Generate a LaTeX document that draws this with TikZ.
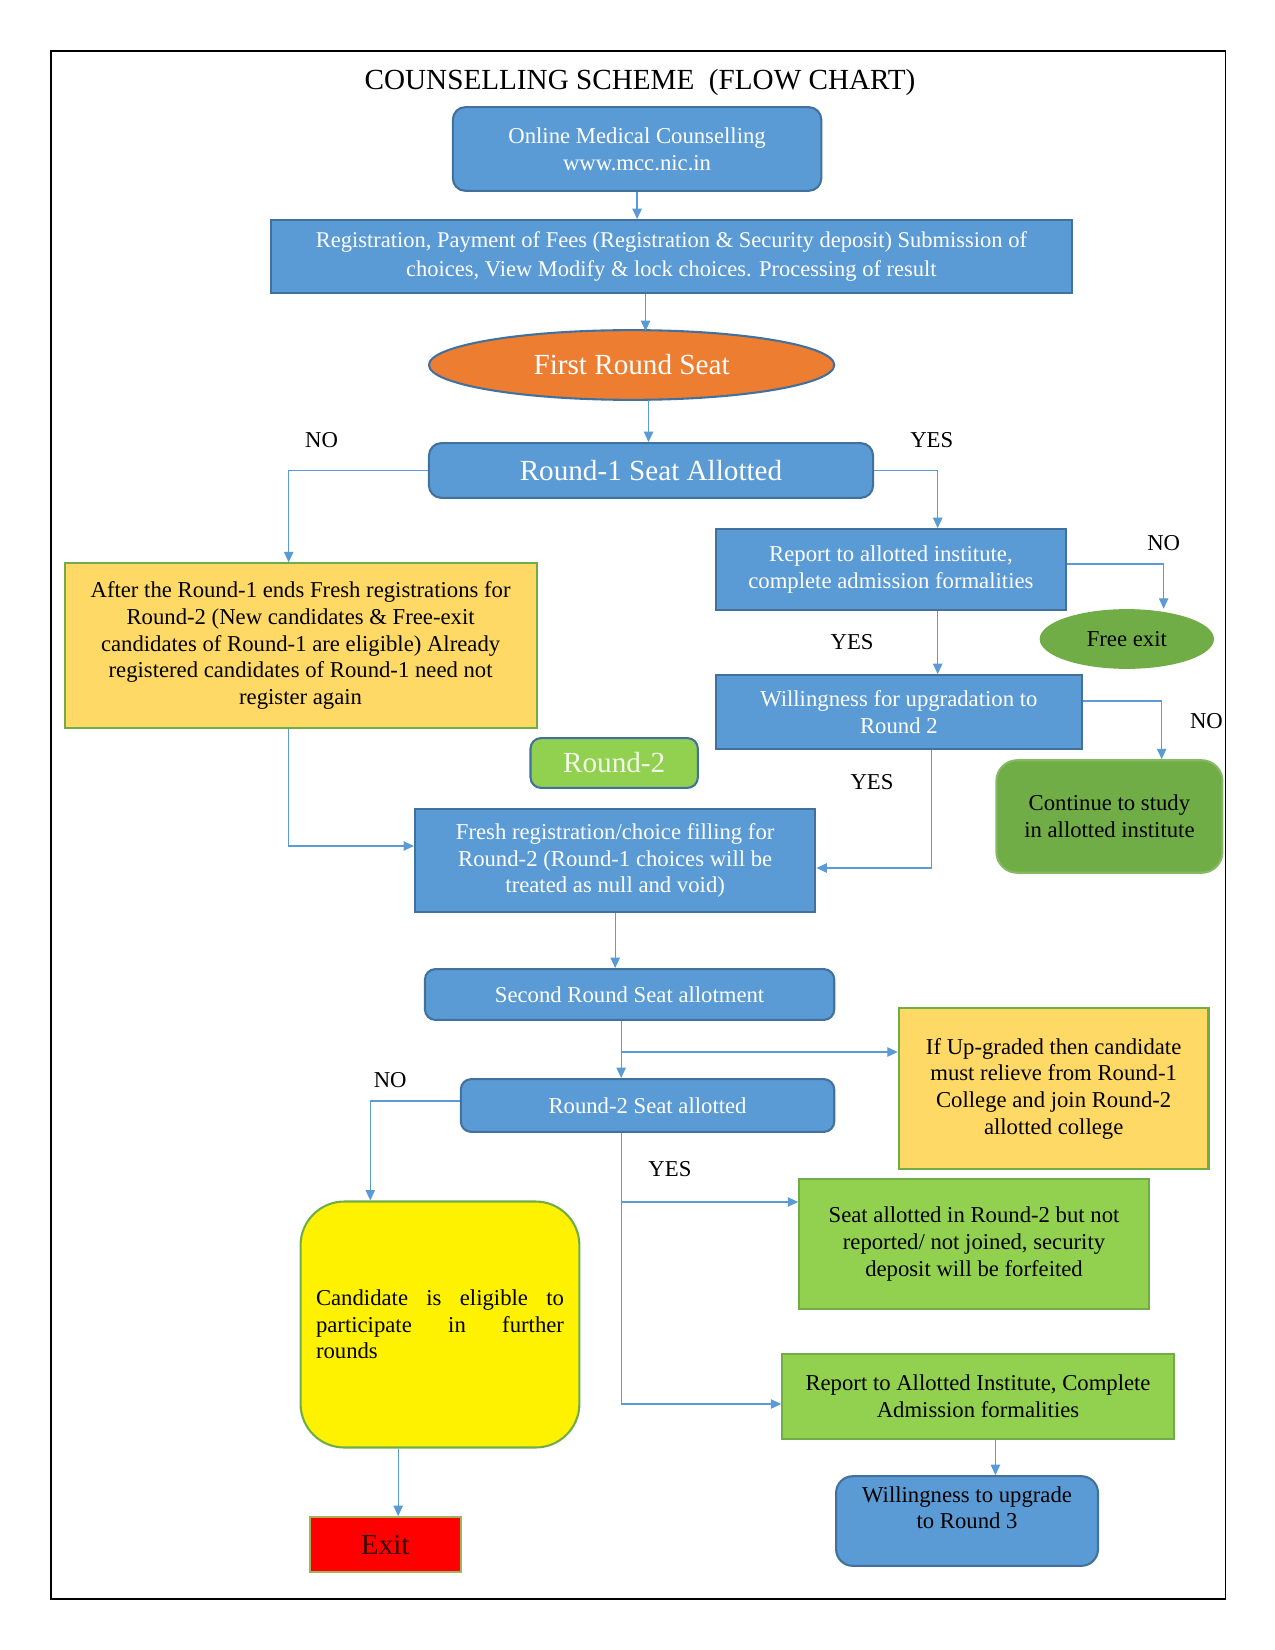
\documentclass[tikz,border=0pt]{standalone}
\usepackage{fontspec}
\setmainfont{Liberation Serif}
\usetikzlibrary{calc}
\usetikzlibrary{shapes.geometric}
\usetikzlibrary{arrows.meta}

\definecolor{boxblue}{HTML}{5B9BD5}
\definecolor{edgeblue}{HTML}{41719C}
\definecolor{seatorange}{HTML}{ED7D31}
\definecolor{gold}{HTML}{FFD966}
\definecolor{darkgreen}{HTML}{70AD47}
\definecolor{lightgreen}{HTML}{92D050}
\definecolor{exitedge}{HTML}{A8B060}
\definecolor{exittext}{HTML}{3A0000}
\definecolor{paletext}{HTML}{F2FAE8}

\newcommand{\pix}[1]{#1*0.478pt}
\newcommand{\txtsize}{\fontsize{10.9}{12.8}\selectfont}
\newcommand{\bigsize}{\fontsize{14}{16}\selectfont}

\tikzset{
  box/.style={inner sep=0pt,align=center,font=\txtsize},
  bluebox/.style={box,draw=edgeblue,line width=1pt,fill=boxblue,text=white},
  goldbox/.style={box,draw=darkgreen,line width=1pt,fill=gold},
  greenbox/.style={box,draw=darkgreen,line width=1pt,fill=lightgreen},
  conn/.style={draw=boxblue,line width=0.6pt,-{Triangle[length=5pt,width=4.5pt]}},
  lbl/.style={font=\txtsize},
}

\begin{document}
\begin{tikzpicture}[x=0.4778pt,y=-0.48pt]
\useasboundingbox (0,0) rectangle (1280.5,1650);
\draw[line width=0.8pt] (51,51) rectangle (1231,1599);

\node[font=\bigsize] (title) at (643,82) {COUNSELLING SCHEME\ \ (FLOW CHART)};

%first round
\node[bluebox,rounded corners=6pt,minimum width=\pix{370},minimum height=\pix{84}] (online) at (640,149)
  {Online Medical Counselling\\www.mcc.nic.in};
\node[bluebox,minimum width=\pix{805},minimum height=\pix{73},font=\fontsize{10.8}{13.6}\selectfont] (reg) at (674.5,256.5)
  {Registration, Payment of Fees (Registration \& Security deposit) Submission of\\choices, View Modify \& lock choices. Processing of result};
\node[ellipse,draw=edgeblue,line width=1pt,fill=seatorange,text=white,font=\bigsize,inner sep=0pt,
  minimum width=\pix{407},minimum height=\pix{70}] (first) at (634.5,365) {First Round Seat};
\node[bluebox,rounded corners=6pt,font=\bigsize,minimum width=\pix{446},minimum height=\pix{55}] (r1) at (654,470.5)
  {Round-1 Seat Allotted};
\node[goldbox,minimum width=\pix{474},minimum height=\pix{165}] (after) at (302,645.5)
  {After the Round-1 ends Fresh registrations for\\Round-2 (New candidates \& Free-exit\\candidates of Round-1 are eligible) Already\\registered candidates of Round-1 need not\\register again};
\node[bluebox,minimum width=\pix{352},minimum height=\pix{81}] (report) at (895,569.5)
  {Report to allotted institute,\\complete admission formalities};
\node[ellipse,fill=darkgreen,font=\txtsize,inner sep=0pt,minimum width=\pix{175},minimum height=\pix{60}] (freeexit) at (1132,639)
  {Free exit};
\node[bluebox,minimum width=\pix{368},minimum height=\pix{74}] (will) at (903,712)
  {Willingness for upgradation to\\Round 2};
\node[box,fill=darkgreen,draw=darkgreen!85!white,line width=1pt,rounded corners=10pt,minimum width=\pix{227},minimum height=\pix{113}] (cont) at (1114.5,816.5)
  {Continue to study\\in allotted institute};

%second round
\node[box,draw=edgeblue,line width=1pt,fill=lightgreen,text=paletext,font=\bigsize,rounded corners=5pt,
  minimum width=\pix{168},minimum height=\pix{50}] (round2) at (617,763) {Round-2};
\node[bluebox,minimum width=\pix{402},minimum height=\pix{103}] (fresh) at (618,860.5)
  {Fresh registration/choice filling for\\Round-2 (Round-1 choices will be\\treated as null and void)};
\node[bluebox,rounded corners=5pt,minimum width=\pix{411},minimum height=\pix{51}] (second) at (632.5,994.5)
  {Second Round Seat allotment};
\node[goldbox,minimum width=\pix{311},minimum height=\pix{161}] (upg) at (1058.5,1088.5)
  {If Up-graded then candidate\\must relieve from Round-1\\College and join Round-2\\allotted college};
\node[bluebox,rounded corners=5pt,minimum width=\pix{375},minimum height=\pix{53}] (r2seat) at (650.5,1105.5)
  {Round-2 Seat allotted};
\node[box,draw=darkgreen,line width=1pt,fill=yellow,rounded corners=21pt,align=left,text width=\pix{249},
  minimum width=\pix{280},minimum height=\pix{247}] (cand) at (442,1324.5)
  {Candidate\hfill is\hfill eligible\hfill to\\participate\hfill in\hfill further\\rounds};
\node[greenbox,minimum width=\pix{351},minimum height=\pix{130}] (seatall) at (978.5,1244)
  {Seat allotted in Round-2 but not\\reported/ not joined, security\\deposit will be forfeited};
\node[greenbox,minimum width=\pix{393},minimum height=\pix{85}] (repall) at (982.5,1396.5)
  {Report to Allotted Institute, Complete\\Admission formalities};
\node[box,draw=edgeblue,line width=1pt,fill=boxblue,rounded corners=8pt,minimum width=\pix{263},minimum height=\pix{90}] (will3) at (971.5,1521)
  {Willingness to upgrade\\to Round 3\\\mbox{}};
\node[box,draw=exitedge,line width=1pt,fill=red,text=exittext,font=\bigsize,minimum width=\pix{152},minimum height=\pix{55}] (exit) at (387,1544.5)
  {Exit};

%labels
\node[lbl] (no1) at (323,440) {NO};
\node[lbl] (yes1) at (936,440) {YES};
\node[lbl] (no2) at (1169,543) {NO};
\node[lbl] (yes2) at (856,642) {YES};
\node[lbl] (no3) at (1212,721) {NO};
\node[lbl] (yes3) at (876,782) {YES};
\node[lbl] (no4) at (392,1080) {NO};
\node[lbl] (yes4) at (673,1169) {YES};

%connectors
\draw[conn] (online.south) -- (online.south |- reg.north);
\coordinate (fs) at ($(first.north)+(14,2)$);
\draw[conn] (reg.south -| fs) -- (fs);
\coordinate (fe) at ($(first.south)+(17,-1)$);
\draw[conn] (fe) -- (fe |- r1.north);
\draw[conn] (r1.west) -| ($(after.north)+(-12,0)$);
\draw[conn] (r1.east) -| ($(report.north)+(47,0)$);
\draw[conn] ($(report.east)+(0,-5.5)$) -| ($(freeexit.north)+(37,0)$);
\coordinate (rp) at ($(report.south)+(47,0)$);
\draw[conn] (rp) -- (rp |- will.north);
\draw[conn] ($(will.east)+(0,-11)$) -| ($(cont.north)+(52.5,0)$);
\coordinate (wb) at ($(will.south)+(33,0)$);
\draw[conn] (wb) |- ($(fresh.east)+(0,7.5)$);
\draw[conn] ($(after.south)+(-12,0)$) |- ($(fresh.west)+(0,-14.5)$);
\draw[conn] (fresh.south) -- (fresh.south |- second.north);
\coordinate (sb) at ($(second.south)+(-8.5,0)$);
\draw[conn] (sb) -- (sb |- r2seat.north);
\coordinate (up) at ($(upg.west)+(0,-36.5)$);
\draw[conn] (sb |- up) -- (up);
\draw[conn] ($(r2seat.west)+(0,-4.5)$) -| ($(cand.north)+(-70,0)$);
\coordinate (rb) at ($(r2seat.south)+(-26.5,0)$);
\coordinate (sa) at ($(seatall.west)+(0,-42)$);
\draw[conn] (rb) |- ($(repall.west)+(0,7.5)$);
\draw[conn] (rb |- sa) -- (sa);
\coordinate (ra) at ($(repall.south)+(17.5,0)$);
\draw[conn] (ra) -- (ra |- will3.north);
\coordinate (cb) at ($(cand.south)+(-42,0)$);
\draw[conn] (cb) -- (cb |- exit.north);
\end{tikzpicture}
\end{document}
